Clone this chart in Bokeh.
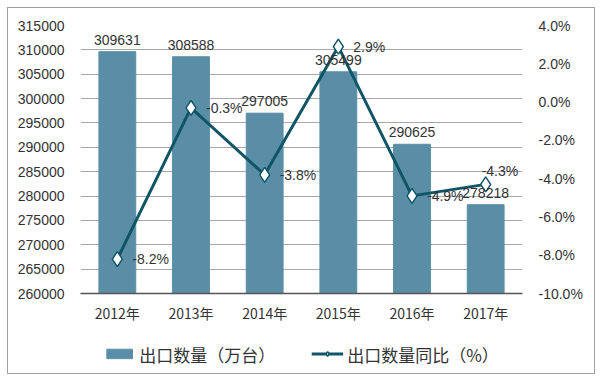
from bokeh.plotting import figure
from bokeh.layouts import column
from bokeh.models import (ColumnDataSource, Range1d, LinearAxis, FactorRange, Legend, LegendItem,
                          PrintfTickFormatter, FixedTicker, LabelSet, BasicTickFormatter)
from bokeh.core.properties import value
from bokeh.embed import file_html
from bokeh.resources import INLINE

years = ["2012年", "2013年", "2014年", "2015年", "2016年", "2017年"]
export_qty = [309631, 308588, 297005, 305499, 290625, 278218]
yoy_pct = [-8.2, -0.3, -3.8, 2.9, -4.9, -4.3]
left_ticks = list(range(260000, 315001, 5000))
right_ticks = [-10, -8, -6, -4, -2, 0, 2, 4]
series_names = ["出口数量（万台）", "出口数量同比（%）"]

BAR = "#5a8ea6"
LINE = "#0f5566"
TXT = "#333333"
FONT = "Liberation Sans"
CJK = "Noto Sans CJK SC"

# label placement offsets (the last label sits above its marker so it is not cut by the frame)
pct_dx = [15, 15, 15, 15, 15, -4]
pct_dy = [0, 0, 0, 0, 0, 13]

src = ColumnDataSource(dict(
    x=years, q=export_qty, p=yoy_pct,
    ql=[str(v) for v in export_qty],
    pl=["%.1f%%" % v for v in yoy_pct],
    dx=pct_dx, dy=pct_dy,
))

p = figure(width=586, height=326, x_range=FactorRange(*years), y_range=Range1d(260000, 315000),
           output_backend="svg", toolbar_location=None,
           min_border_left=72, min_border_right=72, min_border_top=17, min_border_bottom=41)
p.outline_line_color = None
p.border_fill_color = "white"

p.extra_y_ranges = {"pct": Range1d(-10, 4)}

bars = p.vbar(x="x", top="q", bottom=260000, width=0.5, source=src, color=BAR)
ln = p.line(x="x", y="p", source=src, y_range_name="pct", line_color=LINE, line_width=3)
mk = p.scatter(x="x", y="p", source=src, y_range_name="pct", marker="diamond", size=15,
               fill_color="white", line_color=LINE, line_width=1.5)

p.add_layout(LabelSet(x="x", y="q", text="ql", source=src, y_offset=7, text_align="center",
                      text_baseline="bottom", text_font=value(FONT), text_font_size="14px",
                      text_color=TXT))
p.add_layout(LabelSet(x="x", y="p", text="pl", source=src, y_range_name="pct",
                      x_offset="dx", y_offset="dy",
                      text_align="left", text_baseline="middle", text_font=value(FONT),
                      text_font_size="14px", text_color=TXT))

p.xgrid.grid_line_color = None
p.ygrid.grid_line_color = "#a8a8a8"
p.ygrid.grid_line_width = 1
p.yaxis.ticker = FixedTicker(ticks=left_ticks)
p.yaxis.formatter = BasicTickFormatter(use_scientific=False)

for ax in [p.yaxis[0]]:
    ax.axis_line_color = None
    ax.major_tick_line_color = None
    ax.minor_tick_line_color = None
    ax.major_label_text_font = FONT
    ax.major_label_text_font_size = "14px"
    ax.major_label_text_color = TXT
    ax.major_label_standoff = 10

ra = LinearAxis(y_range_name="pct", ticker=FixedTicker(ticks=right_ticks),
                formatter=PrintfTickFormatter(format="%.1f%%"))
ra.axis_line_color = None
ra.major_tick_line_color = None
ra.minor_tick_line_color = None
ra.major_label_text_font = FONT
ra.major_label_text_font_size = "14px"
ra.major_label_text_color = TXT
ra.major_label_standoff = 10
p.add_layout(ra, "right")

xa = p.xaxis[0]
xa.axis_line_color = "#555555"
xa.axis_line_width = 1.5
xa.major_tick_line_color = None
xa.minor_tick_line_color = None
xa.major_label_text_font = CJK
xa.major_label_text_font_size = "14px"
xa.major_label_text_color = TXT
xa.major_label_standoff = 3

# legend in its own strip below the chart (dummy glyphs lie outside its visible range)
lg = figure(width=586, height=39, x_range=Range1d(0, 1), y_range=Range1d(0, 1),
            output_backend="svg", toolbar_location=None,
            min_border_left=0, min_border_right=0, min_border_top=0, min_border_bottom=0)
lg.axis.visible = False
lg.grid.grid_line_color = None
lg.outline_line_color = None
dummy = ColumnDataSource(dict(x=[-5, -4], y=[-5, -5]))
lb = lg.vbar(x="x", top="y", width=0.1, source=dummy, color=BAR)
ll = lg.line(x="x", y="y", source=dummy, line_color=LINE, line_width=3)
lm = lg.scatter(x="x", y="y", source=dummy, marker="diamond", size=15,
                fill_color="white", line_color=LINE, line_width=1.5)
legend = Legend(items=[LegendItem(label=series_names[0], renderers=[lb], index=0),
                       LegendItem(label=series_names[1], renderers=[ll, lm], index=0)],
                orientation="horizontal", location="center",
                label_text_font=CJK, label_text_font_size="17px", label_text_color=TXT,
                glyph_width=32, glyph_height=12, spacing=36, border_line_color=None,
                background_fill_alpha=0, margin=0, padding=4, label_standoff=4)
lg.add_layout(legend, "center")

layout = column(p, lg, spacing=0, margin=(7, 0, 0, 7), styles={"border": "1px solid #a0a0a0"})

open("out.html", "w").write(file_html(layout, INLINE))
